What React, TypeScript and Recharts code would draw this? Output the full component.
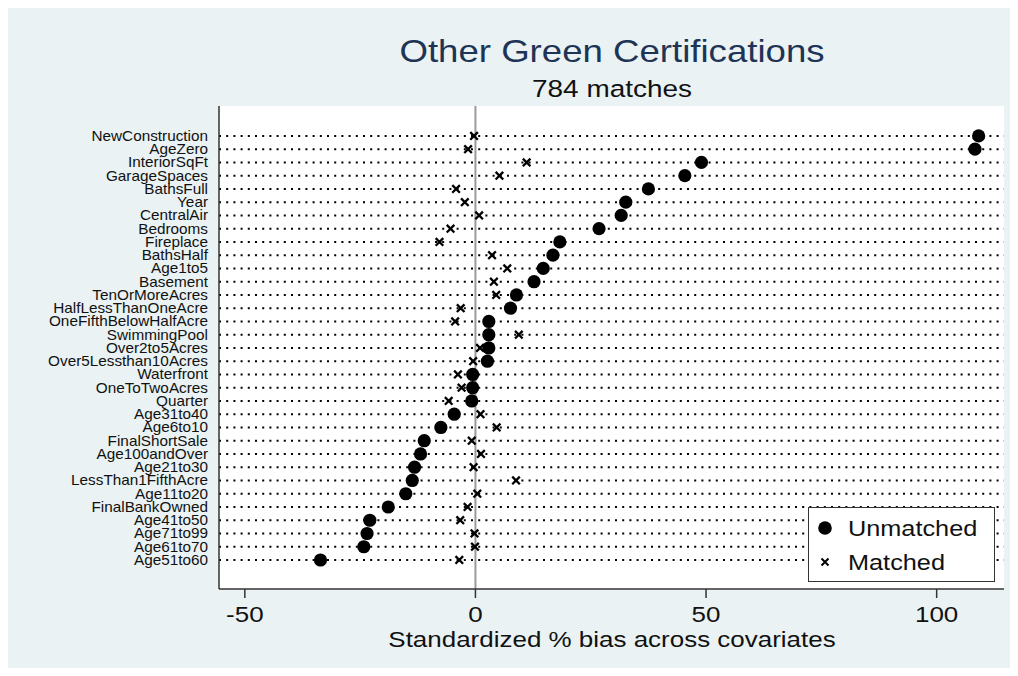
import {
  CartesianGrid,
  Legend,
  ReferenceLine,
  Scatter,
  ScatterChart,
  XAxis,
  YAxis,
} from 'recharts';

const covariates = [
  'NewConstruction', 'AgeZero', 'InteriorSqFt', 'GarageSpaces', 'BathsFull', 'Year',
  'CentralAir', 'Bedrooms', 'Fireplace', 'BathsHalf', 'Age1to5', 'Basement',
  'TenOrMoreAcres', 'HalfLessThanOneAcre', 'OneFifthBelowHalfAcre', 'SwimmingPool',
  'Over2to5Acres', 'Over5Lessthan10Acres', 'Waterfront', 'OneToTwoAcres', 'Quarter',
  'Age31to40', 'Age6to10', 'FinalShortSale', 'Age100andOver', 'Age21to30',
  'LessThan1FifthAcre', 'Age11to20', 'FinalBankOwned', 'Age41to50', 'Age71to99',
  'Age61to70', 'Age51to60',
];

// standardized % bias, same order as covariates
const unmatchedBias = [
  109.1, 108.3, 49.0, 45.4, 37.5, 32.6, 31.6, 26.8, 18.3, 16.8, 14.7, 12.7,
  8.9, 7.6, 2.9, 2.9, 2.9, 2.6, -0.6, -0.6, -0.8, -4.6, -7.5, -11.1, -11.9,
  -13.2, -13.7, -15.1, -18.9, -22.9, -23.5, -24.2, -33.6,
];
const matchedBias = [
  -0.3, -1.6, 11.1, 5.2, -4.2, -2.3, 0.8, -5.4, -7.8, 3.6, 6.9, 4.0,
  4.5, -3.2, -4.4, 9.4, 1.0, -0.5, -3.8, -3.0, -5.8, 1.1, 4.6, -0.8, 1.2,
  -0.4, 8.8, 0.4, -1.7, -3.3, -0.2, -0.1, -3.5,
];

const xTicks = [-50, 0, 50, 100];
const rowTicks = covariates.map((_, i) => i);

const TITLE = 'Other Green Certifications';
const SUBTITLE = '784 matches';
const X_LABEL = 'Standardized % bias across covariates';
const SERIES = ['Unmatched', 'Matched'];

const FONT = '"Liberation Sans", Arial, sans-serif';
const BG = '#eaf2f3';
const INK = '#111';

const unmatchedData = unmatchedBias.map((bias, row) => ({ row, bias }));
const matchedData = matchedBias.map((bias, row) => ({ row, bias }));

function CovariateTick({ x, y, payload }: any) {
  return (
    <text
      transform={`translate(${x},${y + 4.8}) scale(1.11,1)`}
      textAnchor="end"
      fontSize={13.8}
      fontFamily={FONT}
      fill={INK}
    >
      {covariates[payload.value]}
    </text>
  );
}

function BiasTick({ x, y, payload }: any) {
  return (
    <text
      transform={`translate(${x},${y + 20}) scale(1.18,1)`}
      textAnchor="middle"
      fontSize={22}
      fontFamily={FONT}
      fill={INK}
    >
      {payload.value}
    </text>
  );
}

const UnmatchedDot = ({ cx, cy }: any) => <circle cx={cx} cy={cy} r={6.6} fill="#000" />;

const MatchedCross = ({ cx, cy }: any) => {
  const s = 3.8;
  return (
    <path
      d={`M${cx - s},${cy - s}L${cx + s},${cy + s}M${cx - s},${cy + s}L${cx + s},${cy - s}`}
      stroke="#000"
      strokeWidth={2.3}
    />
  );
};

function BiasLegend() {
  return (
    <div style={{ width: 187, height: 75, boxSizing: 'border-box', border: '1.5px solid #333', background: '#fff' }}>
      <svg width={184} height={72} style={{ display: 'block' }}>
        <circle cx={16} cy={20} r={6.8} fill="#000" />
        <path d="M12.5,50.5L19.5,57.5M12.5,57.5L19.5,50.5" stroke="#000" strokeWidth={2} />
        {SERIES.map((name, i) => (
          <text
            key={name}
            transform={`translate(39,${28 + i * 34}) scale(1.15,1)`}
            fontSize={22}
            fontFamily={FONT}
            fill={INK}
          >
            {name}
          </text>
        ))}
      </svg>
    </div>
  );
}

export default function App() {
  return (
    <div style={{ position: 'relative', width: 1010, height: 668, marginBottom: -8, background: BG, fontFamily: FONT }}>
      <ScatterChart width={1010} height={668} margin={{ top: 98, right: 14, bottom: 47, left: 0 }}>
        <CartesianGrid
          horizontal
          vertical={false}
          syncWithTicks
          fill="#fff"
          stroke="#000"
          strokeWidth={2}
          strokeDasharray="2 5.2"
        />
        <XAxis
          type="number"
          dataKey="bias"
          domain={[-55.6, 114.6]}
          ticks={xTicks}
          allowDataOverflow
          height={40}
          tickSize={9}
          tickMargin={4}
          stroke="#333"
          axisLine={{ stroke: '#333', strokeWidth: 1.5 }}
          tickLine={{ stroke: '#333', strokeWidth: 1.5 }}
          tick={<BiasTick />}
        />
        <YAxis
          type="number"
          dataKey="row"
          domain={[-2.26, 34.19]}
          ticks={rowTicks}
          interval={0}
          reversed
          allowDataOverflow
          width={211}
          tickSize={0}
          tickMargin={11}
          tickLine={false}
          axisLine={{ stroke: '#333', strokeWidth: 1.5 }}
          tick={<CovariateTick />}
        />
        <ReferenceLine x={0} stroke="#9a9a9a" strokeWidth={2} />
        <Legend
          layout="vertical"
          align="center"
          verticalAlign="middle"
          content={<BiasLegend />}
          wrapperStyle={{ left: 800, top: 499, width: 187, height: 75 }}
        />
        <Scatter name={SERIES[0]} data={unmatchedData} shape={<UnmatchedDot />} isAnimationActive={false} />
        <Scatter name={SERIES[1]} data={matchedData} shape={<MatchedCross />} isAnimationActive={false} />
      </ScatterChart>
      <div style={{ position: 'absolute', left: 303.5, top: 23, width: 600, lineHeight: '40px', fontSize: 30.5, color: '#1e3456', textAlign: 'center', transform: 'scaleX(1.2)' }}>
        {TITLE}
      </div>
      <div style={{ position: 'absolute', left: 303.5, top: 65, width: 600, lineHeight: '32px', fontSize: 24.5, color: INK, textAlign: 'center', transform: 'scaleX(1.14)' }}>
        {SUBTITLE}
      </div>
      <div style={{ position: 'absolute', left: 253.5, top: 617, width: 700, lineHeight: '30px', fontSize: 22, color: INK, textAlign: 'center', transform: 'scaleX(1.18)' }}>
        {X_LABEL}
      </div>
    </div>
  );
}
